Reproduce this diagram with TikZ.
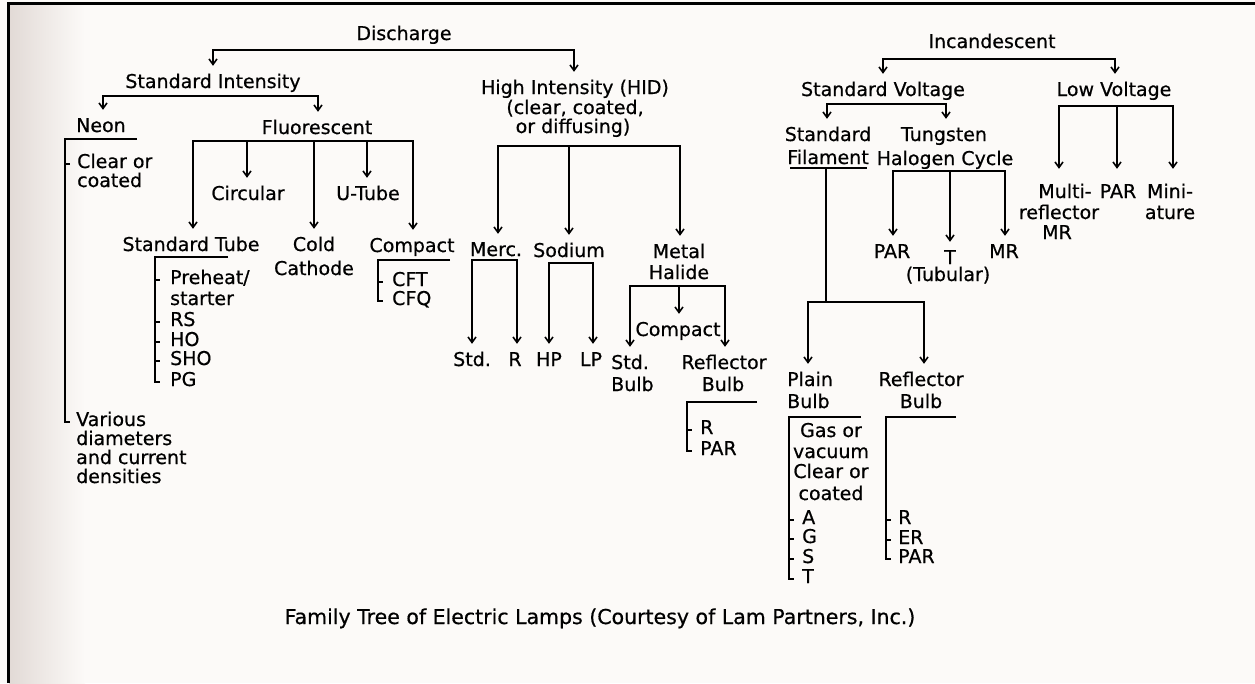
\documentclass[tikz,border=0pt]{standalone}
\usepackage{fontspec}
\setmainfont{DejaVu Sans}
\newfontfamily\lblfont[BoldFont={DejaVu Sans},BoldFeatures={FakeBold=0.6}]{DejaVu Sans}
\usetikzlibrary{arrows.meta}
\definecolor{paper}{RGB}{252,250,248}
\definecolor{paperedge}{RGB}{226,218,214}
\begin{document}
\begin{tikzpicture}[x=1pt,y=-1pt,
  lbl/.style={inner sep=2pt,text height=13pt,text depth=4pt,font=\lblfont\bfseries\fontsize{19}{20}\selectfont},
  ctr/.style={lbl,anchor=base},
  lft/.style={lbl,anchor=base west},
  ln/.style={line width=2pt},
  tip/.tip={Straight Barb[length=5.5pt,width=8pt,line width=1.6pt]},
  arr/.style={ln,-tip,shorten >=7pt},
  arrl/.style={ln,-tip,shorten >=14pt},
  arrb/.style={ln,tip-tip,shorten >=7pt,shorten <=7pt},
  arrbl/.style={ln,tip-tip,shorten >=14pt,shorten <=14pt}]
\useasboundingbox (0,0) rectangle (1255,683);
\fill[paper] (0,0) rectangle (1255,683);
\shade[left color=paperedge,right color=paper] (9,3) rectangle (85,683);
\draw[line width=3pt] (8,683) -- (8,3) -- (1255,3);

% ---------- Discharge ----------
\node[ctr] (dis) at (404,40) {Discharge};
\node[ctr] (si) at (213,88) {Standard Intensity};
\node[ctr] (hid) at (575,94) {High Intensity (HID)};
\node[ctr] (hidb) at (575,114) {(clear, coated,};
\node[ctr] (hidc) at (573,133) {or diffusing)};
\node[ctr] (neon) at (101,132) {Neon};
\node[ctr] (fl) at (317,134) {Fluorescent};
\node[lft] (clr) at (75,168) {Clear or};
\node[lft] (coat) at (75,187) {coated};
\node[lft] (var1) at (74,426) {Various};
\node[lft] (var2) at (74,445) {diameters};
\node[lft] (var3) at (74,464) {and current};
\node[lft] (var4) at (74,483) {densities};
\node[ctr] (circ) at (248,200) {Circular};
\node[ctr] (ut) at (368,200) {U-Tube};
\node[ctr] (st) at (191,251) {Standard Tube};
\node[ctr] (cold) at (314,251) {Cold};
\node[ctr] (cath) at (314,275) {Cathode};
\node[ctr] (cmp) at (412,252) {Compact};
\node[lft] (ph) at (168,284) {Preheat/};
\node[lft] (starter) at (168,305) {starter};
\node[lft] (rs) at (168,326) {RS};
\node[lft] (ho) at (168,346) {HO};
\node[lft] (sho) at (168,365) {SHO};
\node[lft] (pg) at (168,386) {PG};
\node[lft] (cft) at (390,286) {CFT};
\node[lft] (cfq) at (390,305) {CFQ};
\node[ctr] (merc) at (496,256) {Merc.};
\node[ctr] (sod) at (569,257) {Sodium};
\node[ctr] (metal) at (679,258) {Metal};
\node[ctr] (hal) at (679,279) {Halide};
\node[ctr] (mstd) at (472,366) {Std.};
\node[ctr] (mr) at (515,366) {R};
\node[ctr] (hp) at (549,366) {HP};
\node[ctr] (lp) at (591,366) {LP};
\node[ctr] (mhc) at (678,336) {Compact};
\node[lft] (sb1) at (609,369) {Std.};
\node[lft] (sb2) at (609,391) {Bulb};
\node[ctr] (rb1) at (724,369) {Reflector};
\node[ctr] (rb2) at (723,391) {Bulb};
\node[lft] (rbr) at (698,434) {R};
\node[lft] (rbpar) at (698,455) {PAR};

% ---------- Incandescent ----------
\node[ctr] (inc) at (992,48) {Incandescent};
\node[ctr] (sv) at (883,96) {Standard Voltage};
\node[ctr] (lv) at (1114,96) {Low Voltage};
\node[ctr] (sf1) at (828,141) {Standard};
\node[ctr] (sf2) at (828,164) {Filament};
\node[ctr] (tg1) at (944,141) {Tungsten};
\node[ctr] (tg2) at (945,165) {Halogen Cycle};
\node[ctr] (tpar) at (892,258) {PAR};
\node[ctr] (tt) at (950,264) {T};
\node[ctr] (ttub) at (948,281) {(Tubular)};
\node[ctr] (tmr) at (1004,258) {MR};
\node[ctr] (multi) at (1065,198) {Multi-};
\node[ctr] (refl) at (1059,219) {reflector};
\node[ctr] (lmr) at (1057,239) {MR};
\node[ctr] (lpar) at (1118,198) {PAR};
\node[ctr] (mini) at (1170,198) {Mini-};
\node[ctr] (ature) at (1170,219) {ature};
\node[lft] (pb1) at (785,386) {Plain};
\node[lft] (pb2) at (785,408) {Bulb};
\node[ctr] (rf1) at (921,386) {Reflector};
\node[ctr] (rf2) at (921,408) {Bulb};
\node[ctr] (gas) at (831,437) {Gas or};
\node[ctr] (vac) at (831,458) {vacuum};
\node[ctr] (clr2) at (831,478) {Clear or};
\node[ctr] (coat2) at (831,500) {coated};
\node[lft] (ia) at (800,524) {A};
\node[lft] (ig) at (800,543) {G};
\node[lft] (is) at (800,563) {S};
\node[lft] (itt) at (800,583) {T};
\node[lft] (rr) at (896,524) {R};
\node[lft] (er) at (896,544) {ER};
\node[lft] (rpar) at (896,563) {PAR};

\node[ctr,font=\lblfont\bfseries\fontsize{20.5}{22}\selectfont] (cap) at (600,624) {Family Tree of Electric Lamps (Courtesy of Lam Partners, Inc.)};

% ---------- connectors: Discharge ----------
\coordinate (d1) at (213,50); \coordinate (d2) at (574,50);
\draw[arrb] (d1 |- si.north) -- (d1) -- (d2) -- (d2 |- hid.north);
\coordinate (s1) at (103,96); \coordinate (s2) at (318,96);
\draw[arrb] (s1 |- neon.north) -- (s1) -- (s2) -- (s2 |- fl.north);
% Neon bracket
\coordinate (nu) at (137,139); \coordinate (nb) at (65,139);
\draw[ln] (nu) -- (nb) -- (nb |- var1.west) -- ++(5,0);
\draw[ln] (nb |- clr.west) -- ++(5,0);
% Fluorescent
\coordinate (f1) at (193,141); \coordinate (f2) at (247,141); \coordinate (f3) at (314,141);
\coordinate (f4) at (367,141); \coordinate (f5) at (413,141);
\draw[arrb] (f1 |- st.north) -- (f1) -- (f5) -- (f5 |- cmp.north);
\draw[arr] (f2) -- (f2 |- circ.north);
\draw[arr] (f3) -- (f3 |- cold.north);
\draw[arr] (f4) -- (f4 |- ut.north);
% Standard Tube bracket
\coordinate (stu) at (228,257); \coordinate (stb) at (155,257);
\draw[ln] (stu) -- (stb) -- (stb |- pg.west) -- ++(5,0);
\foreach \n in {ph,rs,ho,sho} \draw[ln] (stb |- \n.west) -- ++(5,0);
% Compact bracket
\coordinate (cu) at (450,260); \coordinate (cb) at (378,260);
\draw[ln] (cu) -- (cb) -- (cb |- cfq.west) -- ++(5,0);
\draw[ln] (cb |- cft.west) -- ++(5,0);
% HID
\coordinate (h1) at (498,146); \coordinate (h2) at (569,146); \coordinate (h3) at (680,146);
\draw[arrb] (h1 |- merc.north) -- (h1) -- (h3) -- (h3 |- metal.north);
\draw[arr] (h2) -- (h2 |- sod.north);
\coordinate (m1) at (472,260); \coordinate (m2) at (517,260);
\draw[arrb] (m1 |- mstd.north) -- (m1) -- (m2) -- (m2 |- mr.north);
\coordinate (n1) at (549,263); \coordinate (n2) at (593,263);
\draw[arrb] (n1 |- hp.north) -- (n1) -- (n2) -- (n2 |- lp.north);
\coordinate (k1) at (630,286); \coordinate (k2) at (679,286); \coordinate (k3) at (725,286);
\draw[arrb] (k1 |- sb1.north) -- (k1) -- (k3) -- (k3 |- rb1.north);
\draw[arr] (k2) -- (k2 |- mhc.north);
% MH reflector bracket
\coordinate (ru) at (757,402); \coordinate (rb) at (687,402);
\draw[ln] (ru) -- (rb) -- (rb |- rbpar.west) -- ++(5,0);
\draw[ln] (rb |- rbr.west) -- ++(5,0);

% ---------- connectors: Incandescent ----------
\coordinate (i1) at (883,59); \coordinate (i2) at (1115,59);
\draw[arrb] (i1 |- sv.north) -- (i1) -- (i2) -- (i2 |- lv.north);
\coordinate (v1) at (827,104); \coordinate (v2) at (946,104);
\draw[arrb] (v1 |- sf1.north) -- (v1) -- (v2) -- (v2 |- tg1.north);
\coordinate (w1) at (1059,106); \coordinate (w2) at (1117,106); \coordinate (w3) at (1173,106);
\draw[arrbl] (w1 |- multi.north) -- (w1) -- (w3) -- (w3 |- mini.north);
\draw[arrl] (w2) -- (w2 |- lpar.north);
\coordinate (t1) at (893,171); \coordinate (t2) at (950,171); \coordinate (t3) at (1005,171);
\draw[arrb] (t1 |- tpar.north) -- (t1) -- (t3) -- (t3 |- tmr.north);
\draw[arr] (t2) -- (t2 |- tt.north);
% Standard Filament
\coordinate (fa) at (790,168); \coordinate (fb) at (867,168); \coordinate (fc) at (826,168);
\coordinate (fd) at (826,302);
\draw[ln] (fa) -- (fb);
\draw[ln] (fc) -- (fd);
\coordinate (p1) at (808,302); \coordinate (p2) at (924,302);
\draw[arrb] (p1 |- pb1.north) -- (p1) -- (p2) -- (p2 |- rf1.north);
% Plain bulb bracket
\coordinate (pu) at (861,417); \coordinate (pb) at (789,417);
\draw[ln] (pu) -- (pb) -- (pb |- itt.west) -- ++(5,0);
\foreach \n in {ia,ig,is} \draw[ln] (pb |- \n.west) -- ++(5,0);
% Reflector bulb bracket
\coordinate (qu) at (956,417); \coordinate (qb) at (886,417);
\draw[ln] (qu) -- (qb) -- (qb |- rpar.west) -- ++(5,0);
\foreach \n in {rr,er} \draw[ln] (qb |- \n.west) -- ++(5,0);
\end{tikzpicture}
\end{document}
